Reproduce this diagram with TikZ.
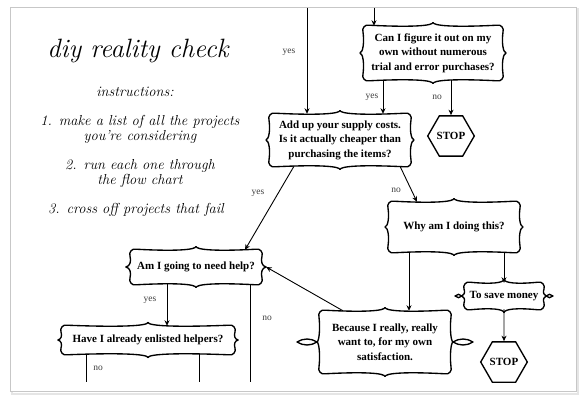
\documentclass[tikz,border=0pt]{standalone}
\usepackage{fontspec}
\newfontfamily\fcfont{Liberation Serif}
\usetikzlibrary{arrows.meta,shapes.geometric,calc}
\newcommand\frm[5]{%
  \foreach \sx/\sy in {1/1,-1/1,1/-1,-1/-1}{%
    \draw[frame,shift={(#1,#2)},xscale=\sx,yscale=\sy]
      (0,{-#4-3.5}) .. controls (0.6,{-#4-0.2}) and ({0.3*#3},{-#4+1.4}) .. ({#3-6},{-#4-0.8})
      .. controls ({#3-2.5},{-#4-2.2}) and ({#3+1.6},{-#4+2.5}) .. (#3,{-#4+6})
      .. controls ({#3-1.4},{-#4+6+0.5*(#4-6)}) and (#3,-0.8) .. ({#3+#5},0);
  }}
\newcommand\leafs[5]{% cx cy start length thickness
  \foreach \sx in {1,-1}{%
    \draw[frame,shift={(#1,#2)},xscale=\sx]
      (#3,0) .. controls ({#3+0.3*#4},{-#5}) and ({#3+0.7*#4},{-#5}) .. ({#3+#4},0)
      .. controls ({#3+0.7*#4},{#5}) and ({#3+0.3*#4},{#5}) .. (#3,0);
  }}
\begin{document}
\begin{tikzpicture}[x=1pt,y=-1pt,
  frame/.style={line width=1.35pt, line cap=round, line join=round},
  box/.style={rectangle, inner sep=0pt, align=center,
    font=\fcfont\bfseries\fontsize{11}{14.5}\selectfont},
  hexa/.style={regular polygon, regular polygon sides=6, minimum size=44pt,
    inner sep=0pt, draw, line width=1.35pt,
    font=\fcfont\bfseries\fontsize{11}{12}\selectfont},
  arr/.style={line width=0.9pt, -{Stealth[length=5.5pt,width=5pt]}},
  ln/.style={line width=0.9pt},
  lbl/.style={font=\fcfont\fontsize{9.5}{11}\selectfont, text=black!75},
  script/.style={font=\itshape\fontsize{14.5}{15}\selectfont, align=center}]
\useasboundingbox (0,0) rectangle (587,404);
\fill[white] (0,0) rectangle (587,404);
\draw[black!10, line width=2pt] (12,9) rectangle (578,394);
\draw[black!22, fill=white, line width=0.8pt] (10,7) rectangle (576,391);

% left text
\node[font=\itshape\fontsize{26.5}{30}\selectfont] (title) at (138,51) {diy reality check};
\node[script] (instr) at (135,92) {instructions:};
\node[script] (s1) at (140,129) {1. make a list of all the projects\\you're considering};
\node[script] (s2) at (140,173) {2. run each one through\\the flow chart};
\node[script] (s3) at (136,210) {3. cross off projects that fail};

% boxes
\node[box, minimum width=146pt, minimum height=54pt] (can) at (433,53)
  {Can I figure it out on my\\own without numerous\\trial and error purchases?};
\frm{433}{53}{70}{27}{3}
\node[box, minimum width=148pt, minimum height=52pt] (add) at (340,140)
  {Add up your supply costs.\\Is it actually cheaper than\\purchasing the items?};
\frm{340}{140}{71}{26}{3}
\node[box, minimum width=138pt, minimum height=50pt] (why) at (454,227)
  {Why am I doing this?};
\frm{454}{227}{66}{25}{3}
\node[box, minimum width=140pt, minimum height=34pt] (am) at (196,267)
  {Am I going to need help?};
\frm{196}{267}{66}{17}{4}
\node[box, minimum width=180pt, minimum height=28pt] (have) at (148,340)
  {Have I already enlisted helpers?};
\frm{148}{340}{87}{14}{3}
\node[box, minimum width=84pt, minimum height=26pt] (save) at (504,296)
  {To save money};
\frm{504}{296}{40}{13}{2}
\leafs{504}{296}{42}{7}{2.2}
\node[box, minimum width=136pt, minimum height=62pt] (because) at (385,342)
  {Because I really, really\\want to, for my own\\satisfaction.};
\frm{385}{342}{66}{31}{2}
\leafs{385}{342}{68}{20}{4}
\node[hexa] (stop1) at (451,136) {STOP};
\node[hexa] (stop2) at (504,362) {STOP};

% connectors
\coordinate (t1) at (307,8);
\coordinate (t2) at (374,8);
\draw[arr] (t1) -- (t1 |- add.north);
\draw[arr] (t2) -- (t2 |- can.north);
\coordinate (c1) at ([xshift=-50pt]can.south);
\draw[arr] (c1) -- (c1 |- add.north);
\draw[arr] (stop1.north |- can.south) -- (stop1.north);
\draw[arr] ([xshift=-46pt]add.south) -- ([xshift=49pt]am.north);
\draw[arr] ([xshift=60pt]add.south) -- ([xshift=-37pt]why.north);
\coordinate (c2) at ([xshift=-45pt]why.south);
\draw[arr] (c2) -- (c2 |- because.north);
\draw[arr] (save.north |- why.south) -- (save.north);
\draw[arr] (save.south) -- (stop2.north);
\draw[arr] ([xshift=-42pt]because.north) -- (am.east);
\coordinate (c3) at ([xshift=-29pt]am.south);
\draw[arr] (c3) -- (c3 |- have.north);
\coordinate (b1) at (250,382);
\draw[ln] (b1 |- am.south) -- (b1);
\coordinate (b2) at (86,382);
\draw[ln] (b2 |- have.south) -- (b2);
\coordinate (b3) at (199,382);
\draw[ln] (b3 |- have.south) -- (b3);

% labels
\node[lbl] (l1) at (289,52) {yes};
\node[lbl] (l2) at (372,97) {yes};
\node[lbl] (l3) at (437,97) {no};
\node[lbl] (l4) at (258,193) {yes};
\node[lbl] (l5) at (396,190) {no};
\node[lbl] (l6) at (150,300) {yes};
\node[lbl] (l7) at (267,318) {no};
\node[lbl] (l8) at (98,368) {no};
\end{tikzpicture}
\end{document}
